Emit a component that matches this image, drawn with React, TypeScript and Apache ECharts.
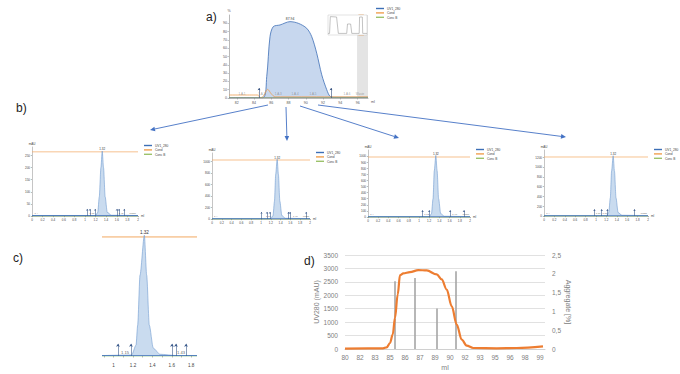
import React, { useEffect, useRef } from "react";
import * as echarts from "echarts";

const FONT = "'Liberation Sans', Arial, sans-serif";
const LEGEND_NAMES = ["UV1_280", "Cond", "Conc B"];

// ---------------- Panel a: preparative run ----------------
const aXTicks = [82, 84, 86, 88, 90, 92, 94, 96];
const aYTicks = [0, 10, 20, 30, 40, 50, 60, 70, 80, 90];
const aUvMl = [81.1, 85.0, 85.47, 85.85, 86.23, 87.01, 88.17, 89.13, 90.1, 90.68, 91.26, 91.84, 92.42, 92.8, 93.3, 97.2];
const aUvPct = [0.4, 0.4, 25.7, 74, 86, 88, 92, 90, 84, 74, 54, 28, 10, 2, 0.8, 0.8];
const aCondMl = [81.1, 84.4, 84.75, 85.1, 85.58, 86.0, 86.45, 97.2];
const aCondPct = [3.6, 3.6, 0.4, 2.5, 10.4, 5, 1.4, 1.4];
const aConcBMl = [81.1, 97.2];
const aConcBPct = [0.6, 0.6];
const aMarkMl = [84.58, 92.92];
const aMarkPct = [12, 12];
const aFracMl = [82.6, 84.9, 86.8, 88.75, 90.83, 94.77, 96.28];
const aFracNames = ["1.A.1", "1.A.2", "1.A.3", "1.A.4", "1.A.5", "1.A.6", "Waste"];
const aPeakLabel = "87.94";
const aZoomWindow = [95.93, 97.2];
// overview inset
const insetX = [0, 4, 6, 22, 26.5, 48, 50, 58, 61, 80, 81, 88, 89, 100];
const insetY = [8, 8, 92, 90, 8, 8, 55, 55, 8, 8, 90, 90, 8, 8];
const insetWindow = [78, 92];

// ---------------- Panel b: four analytical runs ----------------
const bXTicks = [0, 0.2, 0.4, 0.6, 0.8, 1, 1.2, 1.4, 1.6, 1.8, 2];

const b1YTicks = [0, 50, 100, 150, 200, 250];
const b1UvX = [0, 1.2, 1.24, 1.27, 1.3, 1.325, 1.35, 1.38, 1.42, 1.5, 2];
const b1UvY = [2, 2, 15, 80, 200, 268, 200, 80, 15, 3, 2];
const b1Cond = 265;
const b1FracX = [1.04, 1.09, 1.19, 1.6, 1.64, 1.74];
const b1LabX = [0.08, 1.13, 1.68, 1.9];
const b1LabNames = ["1.A", "1.15", "1.43", "Waste"];

const b2YTicks = [0, 200, 400, 600, 800, 1000];
const b2UvX = [0, 1.2, 1.245, 1.275, 1.3, 1.33, 1.355, 1.385, 1.425, 1.5, 2];
const b2UvY = [5, 5, 60, 310, 780, 1040, 780, 310, 60, 12, 5];
const b2Cond = 1028;
const b2FracX = [1.01, 1.12, 1.18, 1.56, 1.59, 1.92];
const b2LabX = [0.08, 1.15, 1.7, 1.92];
const b2LabNames = ["1.A", "1.16", "1.48", "Waste"];

const b3YTicks = [0, 100, 200, 300, 400, 500, 600, 700, 800, 900, 1000];
const b3UvX = [0, 1.2, 1.245, 1.275, 1.3, 1.33, 1.355, 1.385, 1.425, 1.5, 2];
const b3UvY = [5, 5, 55, 300, 760, 1010, 760, 300, 55, 12, 5];
const b3Cond = 985;
const b3FracX = [1.07, 1.2, 1.61, 1.88];
const b3LabX = [0.08, 1.15, 1.7, 1.92];
const b3LabNames = ["1.A", "1.13", "1.48", "Waste"];

const b4YTicks = [0, 200, 400, 600, 800, 1000, 1200];
const b4UvX = [0, 1.2, 1.245, 1.275, 1.3, 1.33, 1.355, 1.385, 1.425, 1.5, 2];
const b4UvY = [6, 6, 70, 370, 920, 1233, 920, 370, 70, 15, 6];
const b4Cond = 1207;
const b4FracX = [0.97, 1.11, 1.22, 1.74];
const b4LabX = [0.08, 1.04, 1.17, 1.92];
const b4LabNames = ["1.A", "1.08", "1.18", "Waste"];
const bPeakLabel = "1.32";

// ---------------- Panel c: zoom of one analytical peak ----------------
const cXTicks = [1.0, 1.2, 1.4, 1.6, 1.8];
const cMinorTicks = [0.9, 1.0, 1.1, 1.2, 1.3, 1.4, 1.5, 1.6, 1.7, 1.8];
const cUvX = [0.88, 1.186, 1.231, 1.248, 1.272, 1.317, 1.341, 1.368, 1.409, 1.478, 1.651, 1.86];
const cUvY = [1, 2.3, 25, 71, 186, 278, 186, 71, 18, 4, 1, 1];
const cCond = 274;
const cFracX = [1.045, 1.179, 1.602, 1.643, 1.747];
const cLabX = [1.117, 1.695];
const cLabNames = ["1.15", "1.43"];
const cPeakLabel = "1.32";

// ---------------- Panel d: UV280 and aggregate per fraction ----------------
const dXTickMl = [80, 81.5, 83, 84.5, 86, 87.5, 89, 90.5, 92, 93.5, 95, 96.5, 98, 99.5];
const dXTickLabels = ["80", "82", "83", "85", "86", "87", "89", "90", "92", "93", "95", "96", "98", "99"];
const dMl = [80, 83.8, 84.17, 84.5, 84.77, 85.0, 85.27, 85.5, 85.83, 86.5, 87.33, 88.17, 89.17, 89.67, 90.17, 90.67, 91.17, 91.67, 92.17, 92.83, 95.17, 97.17, 99.8];
const dUv = [15, 25, 62, 224, 535, 1158, 2029, 2751, 2813, 2863, 2938, 2925, 2776, 2589, 2216, 1593, 909, 349, 125, 37, 25, 37, 100];
const dAggMl = [85.0, 87.0, 89.2, 91.1];
const dAggPct = [1.8, 1.89, 1.08, 2.07];

const zip = (xs: number[], ys: number[]) => xs.map((x, i) => [x, ys[i]]);

type Chrom = {
  grid: number;
  left: number; top: number; width: number; height: number;
  xMin: number; xMax: number; xTicks: number[]; tickVals: number[];
  yMax: number; yTicks: number[];
  uvX: number[]; uvY: number[]; cond: number;
  fracX: number[]; fracH: number;
  labX: number[]; labNames: string[]; labY: number;
  peak: string; showY: boolean; fs: number; showAxisLine: boolean;
};

const arrowColor = "#4472c4";
function arrow(x1: number, y1: number, x2: number, y2: number) {
  const ang = Math.atan2(y2 - y1, x2 - x1);
  const L = 5, W = 2.3;
  const bx = x2 - L * Math.cos(ang), by = y2 - L * Math.sin(ang);
  const px = -Math.sin(ang) * W, py = Math.cos(ang) * W;
  return [
    { type: "line", shape: { x1, y1, x2: bx, y2: by }, style: { stroke: arrowColor, lineWidth: 0.9 } },
    { type: "polygon", shape: { points: [[x2, y2], [bx + px, by + py], [bx - px, by - py]] }, style: { fill: arrowColor } },
  ];
}

function buildOption() {
  const grids: any[] = [];
  const xAxes: any[] = [];
  const yAxes: any[] = [];
  const series: any[] = [];

  // ---- panel a ----
  grids.push({ left: 229, top: 15, width: 139, height: 83 });
  xAxes.push({
    type: "value", gridIndex: 0, min: 81.1, max: 97.2,
    axisLine: { lineStyle: { color: "#8a8a8a", width: 0.6 } },
    axisTick: { customValues: aXTicks, length: 1.5, lineStyle: { color: "#8a8a8a", width: 0.5 } },
    axisLabel: { customValues: aXTicks, fontSize: 3.6, color: "#555", margin: 3, fontFamily: FONT },
    splitLine: { show: false },
    name: "ml", nameGap: 3, nameTextStyle: { fontSize: 3.6, color: "#555", fontFamily: FONT, verticalAlign: "top", padding: [2, 0, 0, 0] },
  });
  yAxes.push({
    type: "value", gridIndex: 0, min: 0, max: 100,
    axisLine: { show: true, lineStyle: { color: "#8a8a8a", width: 0.6 } },
    axisTick: { show: true, customValues: aYTicks, length: 1.5, lineStyle: { color: "#8a8a8a", width: 0.5 } },
    axisLabel: { customValues: aYTicks, fontSize: 3.6, color: "#555", margin: 2, fontFamily: FONT },
    splitLine: { show: false },
    name: "%", nameGap: 2, nameTextStyle: { fontSize: 3.6, color: "#555", fontFamily: FONT },
  });
  series.push({
    type: "line", name: "UV1_280", xAxisIndex: 0, yAxisIndex: 0, data: zip(aUvMl, aUvPct),
    symbol: "none", smooth: 0.3, color: "#3d6fb6",
    lineStyle: { width: 0.8, color: "#3d6fb6" }, areaStyle: { color: "#c7d7ee", opacity: 1 },
    markPoint: {
      symbol: "circle", symbolSize: 0.1, data: [{ type: "max" }],
      label: { show: true, position: "top", formatter: aPeakLabel, fontSize: 3.4, color: "#333", distance: 1, fontFamily: FONT },
    },
    markArea: {
      silent: true, itemStyle: { color: "#e4e4e4" },
      data: [[{ xAxis: aZoomWindow[0] }, { xAxis: aZoomWindow[1] }]],
    },
    z: 2,
  });
  series.push({
    type: "line", name: "Cond", xAxisIndex: 0, yAxisIndex: 0, data: zip(aCondMl, aCondPct),
    symbol: "none", smooth: 0.3, color: "#f0a050", lineStyle: { width: 0.8, color: "#f0a050" }, z: 3,
  });
  series.push({
    type: "line", name: "Conc B", xAxisIndex: 0, yAxisIndex: 0, data: zip(aConcBMl, aConcBPct),
    symbol: "none", color: "#9cc26b", lineStyle: { width: 0.8, color: "#8a9a7a" }, z: 3,
  });
  series.push({
    type: "lines", coordinateSystem: "cartesian2d", xAxisIndex: 0, yAxisIndex: 0,
    data: aMarkMl.map((m, i) => ({ coords: [[m, 0], [m, aMarkPct[i]]] })),
    symbol: ["none", "arrow"], symbolSize: 2.2,
    lineStyle: { color: "#2d4a7a", width: 0.6, opacity: 1 }, z: 4, silent: true,
  });
  series.push({
    type: "scatter", xAxisIndex: 0, yAxisIndex: 0, symbolSize: 0.01, silent: true,
    data: aFracMl.map((m, i) => ({ value: [m, 5.5], name: aFracNames[i] })),
    label: { show: true, formatter: "{b}", fontSize: 3, color: "#888", position: "inside", fontFamily: FONT },
    z: 4,
  });

  // ---- inset ----
  grids.push({ left: 328, top: 15, width: 39, height: 20, show: true, backgroundColor: "#ffffff", borderColor: "#c4c4c4", borderWidth: 0.5, z: 5 });
  xAxes.push({ type: "value", gridIndex: 1, min: 0, max: 100, show: false });
  yAxes.push({ type: "value", gridIndex: 1, min: 0, max: 100, show: false });
  series.push({
    type: "line", xAxisIndex: 1, yAxisIndex: 1, data: zip(insetX, insetY), symbol: "none",
    lineStyle: { color: "#9a9a9a", width: 0.6 }, z: 6, silent: true,
    markArea: {
      silent: true,
      itemStyle: { color: "rgba(120,120,120,0.35)", borderColor: "#f0a050", borderWidth: 0.8 },
      data: [[{ xAxis: insetWindow[0], yAxis: 0 }, { xAxis: insetWindow[1], yAxis: 100 }]],
    },
  });

  // ---- panels b and c ----
  const chroms: Chrom[] = [
    { grid: 2, left: 32, top: 147, width: 106, height: 69, xMin: 0, xMax: 2, xTicks: bXTicks, tickVals: bXTicks, yMax: 285, yTicks: b1YTicks, uvX: b1UvX, uvY: b1UvY, cond: b1Cond, fracX: b1FracX, fracH: 29, labX: b1LabX, labNames: b1LabNames, labY: 12, peak: bPeakLabel, showY: true, fs: 3, showAxisLine: true },
    { grid: 3, left: 212, top: 153, width: 98, height: 66, xMin: 0, xMax: 2, xTicks: bXTicks, tickVals: bXTicks, yMax: 1150, yTicks: b2YTicks, uvX: b2UvX, uvY: b2UvY, cond: b2Cond, fracX: b2FracX, fracH: 122, labX: b2LabX, labNames: b2LabNames, labY: 50, peak: bPeakLabel, showY: true, fs: 3, showAxisLine: true },
    { grid: 4, left: 368, top: 150, width: 102, height: 67, xMin: 0, xMax: 2, xTicks: bXTicks, tickVals: bXTicks, yMax: 1100, yTicks: b3YTicks, uvX: b3UvX, uvY: b3UvY, cond: b3Cond, fracX: b3FracX, fracH: 110, labX: b3LabX, labNames: b3LabNames, labY: 45, peak: bPeakLabel, showY: true, fs: 3, showAxisLine: true },
    { grid: 5, left: 544, top: 150, width: 104, height: 66, xMin: 0, xMax: 2, xTicks: bXTicks, tickVals: bXTicks, yMax: 1350, yTicks: b4YTicks, uvX: b4UvX, uvY: b4UvY, cond: b4Cond, fracX: b4FracX, fracH: 137, labX: b4LabX, labNames: b4LabNames, labY: 55, peak: bPeakLabel, showY: true, fs: 3, showAxisLine: true },
    { grid: 6, left: 102, top: 230, width: 95, height: 126, xMin: 0.88, xMax: 1.86, xTicks: cXTicks, tickVals: cMinorTicks, yMax: 290, yTicks: [], uvX: cUvX, uvY: cUvY, cond: cCond, fracX: cFracX, fracH: 28, labX: cLabX, labNames: cLabNames, labY: 9, peak: cPeakLabel, showY: false, fs: 4.6, showAxisLine: false },
  ];

  chroms.forEach((c) => {
    const g = c.grid;
    grids.push({ left: c.left, top: c.top, width: c.width, height: c.height });
    xAxes.push({
      type: "value", gridIndex: g, min: c.xMin, max: c.xMax,
      axisLine: { show: c.showAxisLine, lineStyle: { color: "#8a8a8a", width: 0.5 } },
      axisTick: { show: true, customValues: c.tickVals, length: c.showAxisLine ? 1.2 : 1.5, lineStyle: { color: "#777", width: 0.5 } },
      axisLabel: { customValues: c.xTicks, fontSize: c.fs, color: "#444", margin: c.showAxisLine ? 2 : 7, fontFamily: FONT },
      splitLine: { show: false },
      name: c.showAxisLine ? "ml" : "", nameGap: 3, nameTextStyle: { fontSize: c.fs, color: "#444", fontFamily: FONT },
    });
    yAxes.push({
      type: "value", gridIndex: g, min: 0, max: c.yMax, show: c.showY,
      axisLine: { show: true, lineStyle: { color: "#8a8a8a", width: 0.5 } },
      axisTick: { show: true, customValues: c.yTicks, length: 1.2, lineStyle: { color: "#777", width: 0.5 } },
      axisLabel: { customValues: c.yTicks, fontSize: c.fs, color: "#444", margin: 2, fontFamily: FONT, formatter: (v: number) => String(v) },
      splitLine: { show: false },
      name: "mAU", nameGap: 2, nameTextStyle: { fontSize: c.fs, color: "#444", fontFamily: FONT },
    });
    series.push({
      type: "line", name: "UV1_280", xAxisIndex: g, yAxisIndex: g, data: zip(c.uvX, c.uvY),
      symbol: "none", smooth: 0.25, smoothMonotone: "x", color: "#3d6fb6",
      lineStyle: { width: 0.6, color: "#6f9bd0" }, areaStyle: { color: "#c9dbef", opacity: 1 }, z: 3,
      markPoint: {
        symbol: "circle", symbolSize: 0.1, data: [{ type: "max" }],
        label: { show: true, position: "top", formatter: c.peak, fontSize: c.fs, color: "#333", distance: 0.5, backgroundColor: "#fff", fontFamily: FONT },
      },
    });
    series.push({
      type: "line", name: "Cond", xAxisIndex: g, yAxisIndex: g, data: [[c.xMin, c.cond], [c.xMax, c.cond]],
      symbol: "none", color: "#f0a050", lineStyle: { width: c.showY ? 0.7 : 1, color: "#f2a860" }, z: 2,
    });
    series.push({
      type: "line", name: "Conc B", xAxisIndex: g, yAxisIndex: g, data: [[c.xMin, 0], [c.xMax, 0]],
      symbol: "none", color: "#9cc26b", lineStyle: { width: 1, color: "#7fbf5a" }, z: 2,
    });
    series.push({
      type: "line", xAxisIndex: g, yAxisIndex: g, data: [[c.xMin, c.uvY[0]], [c.xMax, c.uvY[0]]],
      symbol: "none", lineStyle: { width: 0.8, color: "#3d6fb6" }, z: 3, silent: true,
    });
    series.push({
      type: "lines", coordinateSystem: "cartesian2d", xAxisIndex: g, yAxisIndex: g,
      data: c.fracX.map((x) => ({ coords: [[x, 0], [x, c.fracH]] })),
      symbol: ["none", "arrow"], symbolSize: c.showY ? 1.8 : 3,
      lineStyle: { color: "#3b5a8c", width: 0.6, opacity: 1 }, z: 4, silent: true,
    });
    series.push({
      type: "scatter", xAxisIndex: g, yAxisIndex: g, symbolSize: 0.01, silent: true,
      data: c.labX.map((x, i) => ({ value: [x, c.labY], name: c.labNames[i] })),
      label: { show: true, formatter: "{b}", fontSize: c.showY ? 2.4 : 4.2, color: "#333", position: "inside", fontFamily: FONT },
      z: 4,
    });
  });

  // ---- panel d ----
  grids.push({ left: 345, top: 255, width: 200, height: 94 });
  xAxes.push({
    type: "value", gridIndex: 7, min: 80, max: 100,
    axisLine: { lineStyle: { color: "#d0d0d0", width: 1 } },
    axisTick: { show: false },
    axisLabel: {
      customValues: dXTickMl, fontSize: 6.5, color: "#808080", margin: 5, fontFamily: FONT,
      formatter: (v: number) => {
        const i = dXTickMl.findIndex((m) => Math.abs(m - v) < 1e-6);
        return i >= 0 ? dXTickLabels[i] : "";
      },
    },
    splitLine: { show: false },
    name: "ml", nameLocation: "middle", nameGap: 15, nameTextStyle: { fontSize: 7, color: "#808080", fontFamily: FONT },
  });
  yAxes.push({
    type: "value", gridIndex: 7, min: 0, max: 3500, interval: 500,
    axisLine: { show: false }, axisTick: { show: false },
    axisLabel: { fontSize: 6.5, color: "#808080", margin: 7, fontFamily: FONT, formatter: (v: number) => String(v) },
    splitLine: { lineStyle: { color: "#d9d9d9", width: 0.8 } },
    name: "UV280 (mAU)", nameLocation: "middle", nameRotate: 90, nameGap: 22,
    nameTextStyle: { fontSize: 7, color: "#808080", fontFamily: FONT },
  });
  yAxes.push({
    type: "value", gridIndex: 7, position: "right", min: 0, max: 2.5, interval: 0.5,
    axisLine: { show: false }, axisTick: { show: false },
    axisLabel: { fontSize: 6.5, color: "#808080", margin: 7, fontFamily: FONT, formatter: (v: number) => String(v).replace(".", ",") },
    splitLine: { show: false },
    name: "Aggregate [%]", nameLocation: "middle", nameRotate: -90, nameGap: 20,
    nameTextStyle: { fontSize: 7, color: "#808080", fontFamily: FONT },
  });
  series.push({
    type: "bar", name: "Aggregate", xAxisIndex: 7, yAxisIndex: 8, data: zip(dAggMl, dAggPct),
    barWidth: 1.6, itemStyle: { color: "#a5a5a5" }, z: 2,
  });
  series.push({
    type: "line", name: "UV280", xAxisIndex: 7, yAxisIndex: 7, data: zip(dMl, dUv),
    symbol: "none", smooth: 0.35, smoothMonotone: "x", color: "#ed7d31",
    lineStyle: { width: 2.2, color: "#ed7d31" }, z: 3,
  });

  const legendBase = {
    orient: "vertical", data: LEGEND_NAMES, icon: "rect", itemWidth: 8, itemHeight: 1.4, itemGap: 1.4,
    padding: 0, selectedMode: false, textStyle: { fontSize: 3.2, color: "#444", fontFamily: FONT, padding: [0, 0, 0, -2] },
  };

  const graphics: any[] = [
    { type: "text", x: 206, y: 17, style: { text: "a)", fontSize: 12, fill: "#222", fontFamily: FONT, verticalAlign: "middle" } },
    { type: "text", x: 16, y: 108, style: { text: "b)", fontSize: 12, fill: "#222", fontFamily: FONT, verticalAlign: "middle" } },
    { type: "text", x: 13, y: 258, style: { text: "c)", fontSize: 12, fill: "#222", fontFamily: FONT, verticalAlign: "middle" } },
    { type: "text", x: 304, y: 261, style: { text: "d)", fontSize: 12, fill: "#222", fontFamily: FONT, verticalAlign: "middle" } },
    ...arrow(268, 105, 150, 130),
    ...arrow(286, 107, 287, 141),
    ...arrow(300, 106, 399, 138),
    ...arrow(318, 105, 566, 137),
  ];

  return {
    animation: false,
    backgroundColor: "#ffffff",
    textStyle: { fontFamily: FONT },
    grid: grids,
    xAxis: xAxes,
    yAxis: yAxes,
    series,
    legend: [
      { ...legendBase, left: 376, top: 7 },
      { ...legendBase, left: 144, top: 144 },
      { ...legendBase, left: 316, top: 151 },
      { ...legendBase, left: 476, top: 148 },
      { ...legendBase, left: 654, top: 148 },
    ],
    graphic: graphics,
  };
}

export default function App() {
  const ref = useRef<HTMLDivElement>(null);
  useEffect(() => {
    document.body.style.margin = "0";
    if (!ref.current) return;
    const chart = echarts.init(ref.current, undefined, { renderer: "svg" });
    chart.setOption(buildOption() as any);
    return () => chart.dispose();
  }, []);
  return <div ref={ref} style={{ width: 680, height: 374 }} />;
}
